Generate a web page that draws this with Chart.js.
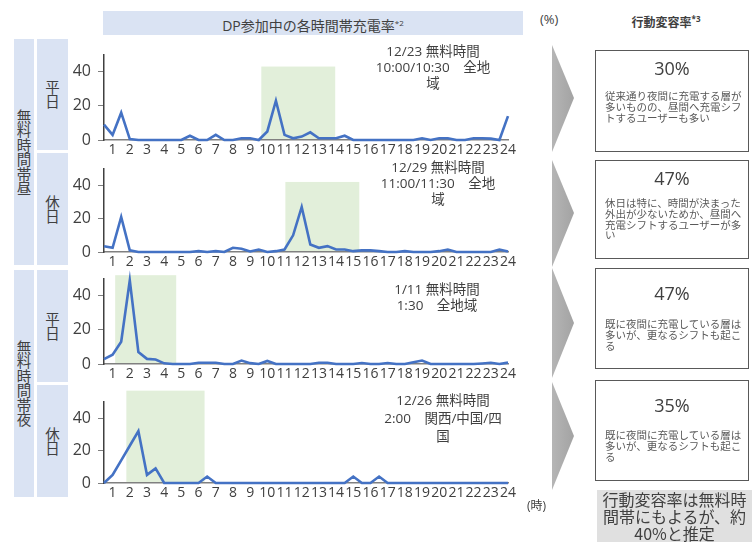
<!DOCTYPE html>
<html>
<head>
<meta charset="utf-8">
<script src="https://cdn.jsdelivr.net/npm/chart.js@4.4.0/dist/chart.umd.min.js"></script>
<style>
  html, body { margin: 0; padding: 0; }
  body {
    width: 756px; height: 542px; overflow: hidden; background: #fff; position: relative;
    font-family: "Open Sans", "Noto Sans CJK JP", sans-serif; color: #404040;
  }
  .abs { position: absolute; }
  .blue { background: #dae3f3; }
  .vtext {
    display: flex; align-items: center; justify-content: center;
    writing-mode: vertical-rl; text-orientation: upright; font-size: 14.5px;
    font-family: "Noto Sans CJK JP", sans-serif;
  }
  .note { position: absolute; font-size: 13.5px; line-height: 16px; text-align: center; white-space: nowrap; transform: translateX(-50%); color: #404040; }
  .box { position: absolute; left: 595px; width: 154px; border: 1.5px solid #595959; box-sizing: border-box; background: #fff; }
  .pct { position: absolute; left: 0; right: 0; text-align: center; font-size: 18px; color: #404040; }
  .desc { position: absolute; left: 9px; font-size: 10.5px; line-height: 10.8px; color: #595959; white-space: nowrap; font-family: "Noto Sans CJK JP", sans-serif; }
  canvas { position: absolute; }
  sup { font-size: 8px; vertical-align: 5px; }
</style>
</head>
<body>

<!-- header -->
<div class="abs blue" style="left:103px;top:11px;width:420px;height:24px;font-size:14px;line-height:24px;text-align:center;">DP参加中の各時間帯充電率<sup>*2</sup></div>
<div class="abs" style="left:540px;top:10px;font-size:13px;">(%)</div>
<div class="abs" style="left:612px;top:13px;width:108px;text-align:center;font-size:12px;font-weight:bold;">行動変容率<sup>*3</sup></div>

<!-- row labels -->
<div class="abs blue vtext" style="left:14px;top:39px;width:20px;height:226px;">無料時間帯昼</div>
<div class="abs blue vtext" style="left:14px;top:270px;width:20px;height:227px;">無料時間帯夜</div>
<div class="abs blue vtext" style="left:37px;top:39px;width:31px;height:111px;">平日</div>
<div class="abs blue vtext" style="left:37px;top:153px;width:31px;height:112px;">休日</div>
<div class="abs blue vtext" style="left:37px;top:270px;width:31px;height:112px;">平日</div>
<div class="abs blue vtext" style="left:37px;top:385px;width:31px;height:112px;">休日</div>

<!-- charts -->
<canvas id="c0" width="480" height="126" style="left:40px;top:38px;"></canvas>
<canvas id="c1" width="480" height="124" style="left:40px;top:152px;"></canvas>
<canvas id="c2" width="480" height="126" style="left:40px;top:262px;"></canvas>
<canvas id="c3" width="480" height="123" style="left:40px;top:384px;"></canvas>

<!-- free-time notes -->
<div class="note" style="left:433px;top:43px;">12/23 無料時間<br>10:00/10:30　全地<br>域</div>
<div class="note" style="left:438px;top:159px;">12/29 無料時間<br>11:00/11:30　全地<br>域</div>
<div class="note" style="left:437px;top:281px;">1/11 無料時間<br>1:30　全地域</div>
<div class="note" style="left:443px;top:391px;line-height:18px;">12/26 無料時間<br>2:00　関西/中国/四<br>国</div>

<div class="abs" style="left:527px;top:496px;font-size:12px;">(時)</div>

<!-- arrows -->
<svg class="abs" style="left:0;top:0;" width="756" height="542">
  <defs>
    <linearGradient id="ag" x1="0" x2="1" y1="0" y2="0">
      <stop offset="0" stop-color="#b5b5b5"/>
      <stop offset="1" stop-color="#a3a3a3"/>
    </linearGradient>
  </defs>
  <polygon points="552,45 574,98 552,152" fill="url(#ag)"/>
  <polygon points="552,160 574,213 552,267" fill="url(#ag)"/>
  <polygon points="552,268 574,323 552,378" fill="url(#ag)"/>
  <polygon points="552,382 574,436 552,490" fill="url(#ag)"/>
</svg>

<!-- behaviour-change boxes -->
<div class="box" style="top:50px;height:102px;">
  <div class="pct" style="top:5px;">30%</div>
  <div class="desc" style="top:40px;">従来通り夜間に充電する層が<br>多いものの、昼間へ充電シフ<br>トするユーザーも多い</div>
</div>
<div class="box" style="top:160px;height:99px;">
  <div class="pct" style="top:5px;">47%</div>
  <div class="desc" style="top:37px;">休日は特に、時間が決まった<br>外出が少ないためか、昼間へ<br>充電シフトするユーザーが多<br>い</div>
</div>
<div class="box" style="top:268px;height:101px;">
  <div class="pct" style="top:12px;">47%</div>
  <div class="desc" style="top:50px;">既に夜間に充電している層は<br>多いが、更なるシフトも起こ<br>る</div>
</div>
<div class="box" style="top:380px;height:101px;">
  <div class="pct" style="top:12px;">35%</div>
  <div class="desc" style="top:49px;">既に夜間に充電している層は<br>多いが、更なるシフトも起こ<br>る</div>
</div>
<div class="abs" style="left:597px;top:490px;width:155px;height:60px;background:#e0e0e0;font-size:16px;line-height:17px;text-align:center;color:#404040;padding-top:1px;font-family:'Noto Sans CJK JP',sans-serif;">行動変容率は無料時<br>間帯にもよるが、約<br>40%と推定</div>

<script>
// Hour labels on the x axis; each hour has a half-hour slot before it.
const hourTicks = ['1','2','3','4','5','6','7','8','9','10','11','12',
                   '13','14','15','16','17','18','19','20','21','22','23','24'];
const slotLabels = hourTicks.flatMap(h => [(Number(h) - 1) + ':30', h + ':00']);
const yTicks = [0, 20, 40];

// Charging share (%) per half-hour slot, 0:30 … 24:00
const weekdayDay = [9, 3, 16, 0.5, 0, 0, 0, 0, 0, 0, 2.5, 0,
                    0, 3, 0, 0, 1, 1, 0, 5, 23, 3, 1, 2,
                    4.5, 1, 1, 1, 2.5, 0, 0, 0, 0, 0, 0, 0,
                    0, 1, 0, 1, 1, 0, 0, 1, 1, 0.8, 0, 14];
const holidayDay = [3.5, 2.5, 21, 1, 0, 0, 0, 0, 0, 0, 0, 0.5,
                    0, 0.5, 0, 2.5, 2, 0.3, 1.5, 0, 0.5, 1.5, 10, 27,
                    4.5, 2.5, 3.5, 1.5, 1.5, 0.5, 1, 1, 0.5, 0, 0, 0.5,
                    0, 0, 0, 0.5, 1.5, 0, 0, 0, 0, 0, 1.5, 0.3];
const weekdayNight = [2.8, 5.4, 13, 49, 7, 3, 2.6, 0.4, 0, 0, 0, 0.7,
                      0.7, 0.7, 0, 0, 2, 0.5, 0, 1.8, 0, 0, 0, 0,
                      0, 0.7, 0.7, 0, 0, 0, 0.6, 0, 0, 0.6, 0, 0,
                      1, 2, 0, 0, 0, 0, 0, 0, 0.3, 0.7, 0, 0.8];
const holidayNight = [0, 5, 14, 23, 32, 5, 9, 0, 0, 0, 0, 0,
                      4, 0, 0, 0, 0, 0, 0, 0, 0, 0, 0, 0,
                      0, 0, 0, 0, 0, 4, 0, 0, 4, 0, 0, 0,
                      0, 0, 0, 0, 0, 0, 0, 0, 0, 0, 0, 0];

// Free-charging windows (hours) and the height (%) of their shaded band
const freeFrom = [9.65, 11.05, 1.15, 1.8];
const freeTo   = [13.95, 15.35, 4.7, 6.35];
const freeTop  = [43, 42, 52, 57];

const series = [weekdayDay, holidayDay, weekdayNight, holidayNight];
const padTop = [13, 12, 13, 18];

const hourToSlot = h => 2 * h - 1;

const shadePlugin = {
  id: 'freeWindow',
  beforeDraw(chart, args, opts) {
    const x = chart.scales.x, y = chart.scales.y, ctx = chart.ctx;
    const x0 = x.getPixelForValue(hourToSlot(opts.from));
    const x1 = x.getPixelForValue(hourToSlot(opts.to));
    const y0 = y.getPixelForValue(opts.top);
    const y1 = y.getPixelForValue(0);
    ctx.save();
    ctx.fillStyle = '#e2efda';
    ctx.fillRect(x0, y0, x1 - x0, y1 - y0);
    ctx.restore();
  }
};

const FONT = '"Open Sans", "Noto Sans CJK JP", sans-serif';

series.forEach((values, k) => {
  new Chart(document.getElementById('c' + k), {
    type: 'line',
    data: {
      labels: slotLabels,
      datasets: [{
        data: values,
        borderColor: '#4472c4',
        borderWidth: 2.6,
        pointRadius: 0,
        tension: 0,
        clip: false
      }]
    },
    options: {
      responsive: false,
      devicePixelRatio: 1,
      animation: false,
      events: [],
      layout: { padding: { top: padTop[k], right: 12, left: 0, bottom: 0 } },
      plugins: {
        legend: { display: false },
        tooltip: { enabled: false },
        freeWindow: { from: freeFrom[k], to: freeTo[k], top: freeTop[k] }
      },
      scales: {
        x: {
          type: 'category',
          offset: false,
          grid: { display: false, drawTicks: false },
          border: { display: true, color: '#808080', width: 1.5 },
          ticks: {
            autoSkip: false, maxRotation: 0, minRotation: 0, padding: 2,
            color: '#404040', font: { family: FONT, size: 14 },
            callback: (v, i) => (i % 2 === 1 ? hourTicks[(i - 1) / 2] : '')
          },
          afterFit: s => { s.height = 24; }
        },
        y: {
          min: 0, max: 50,
          afterBuildTicks: s => { s.ticks = yTicks.map(v => ({ value: v })); },
          grid: { display: true, drawOnChartArea: false, drawTicks: true, tickLength: 6, color: '#7f7f7f', lineWidth: 1 },
          border: { display: true, color: '#404040', width: 1.5 },
          ticks: { padding: 7, color: '#404040', font: { family: FONT, size: 16 } },
          afterFit: s => { s.width = 64; }
        }
      }
    },
    plugins: [shadePlugin]
  });
});
</script>
</body>
</html>
